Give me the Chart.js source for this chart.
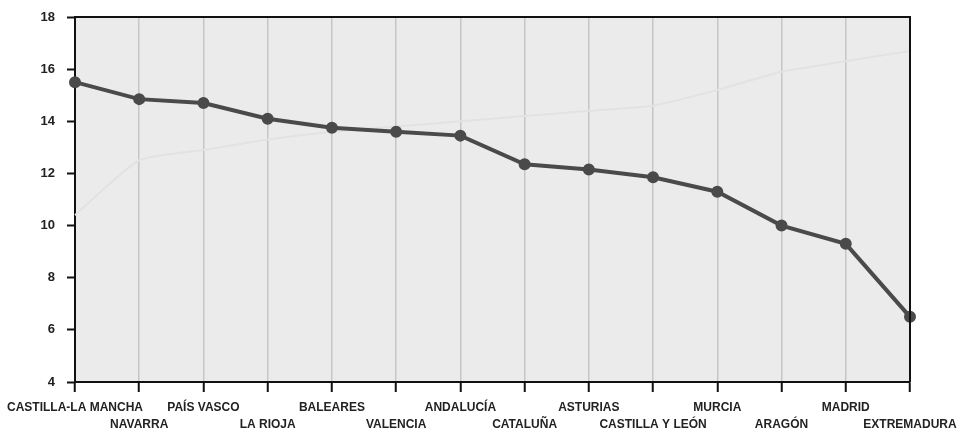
<!DOCTYPE html>
<html>
<head>
  <meta charset="utf-8">
  <title>Regiones</title>
  <script src="https://cdn.jsdelivr.net/npm/chart.js@4/dist/chart.umd.min.js"></script>
  <style>
    html, body { margin: 0; padding: 0; background: #fff; }
    #wrap { width: 961px; height: 435px; }
  </style>
</head>
<body>
  <div id="wrap"><canvas id="myChart" width="961" height="435"></canvas></div>

  <script>
    // regiones (eje x)
    var regiones = ['CASTILLA-LA MANCHA', 'NAVARRA', 'PAÍS VASCO', 'LA RIOJA', 'BALEARES',
      'VALENCIA', 'ANDALUCÍA', 'CATALUÑA', 'ASTURIAS', 'CASTILLA Y LEÓN', 'MURCIA',
      'ARAGÓN', 'MADRID', 'EXTREMADURA'];
    // serie principal
    var valores = [15.5, 14.85, 14.7, 14.1, 13.75, 13.6, 13.45, 12.35, 12.15, 11.85, 11.3,
      10.0, 9.3, 6.5];
    // linea tenue que se transparenta del papel
    var fondo = [10.4, 12.5, 12.9, 13.3, 13.6, 13.8, 14.0, 14.2, 14.4, 14.6, 15.2, 15.9, 16.3, 16.7];
    var yTicks = [4, 6, 8, 10, 12, 14, 16, 18];

    // etiquetas alternadas en dos filas
    var etiquetas = regiones.map(function(r, i) { return i % 2 ? ['', r] : [r]; });

    var plotBg = {
      id: 'plotBg',
      beforeDraw: function(chart) {
        var a = chart.chartArea, c = chart.ctx;
        c.save();
        c.fillStyle = '#ebebeb';
        c.fillRect(a.left, a.top, a.right - a.left, a.bottom - a.top);
        c.restore();
      },
      afterDatasetsDraw: function(chart) {
        var a = chart.chartArea, c = chart.ctx;
        c.save();
        c.strokeStyle = '#111';
        c.lineWidth = 2;
        c.beginPath();
        c.moveTo(a.left, a.top);
        c.lineTo(a.right, a.top);
        c.lineTo(a.right, a.bottom);
        c.stroke();
        c.restore();
      }
    };

    var ctx = document.getElementById('myChart').getContext('2d');
    var chart = new Chart(ctx, {
      type: 'line',
      data: {
        labels: etiquetas,
        datasets: [{
          data: valores,
          borderColor: '#4a4a4a',
          backgroundColor: '#4a4a4a',
          borderWidth: 4,
          pointRadius: 4,
          tension: 0,
          order: 1
        }, {
          data: fondo,
          borderColor: '#e2e2e2',
          borderWidth: 2,
          pointRadius: 0,
          tension: 0.2,
          order: 2
        }]
      },
      options: {
        responsive: false,
        animation: false,
        layout: { padding: { left: 16, right: 3, top: 17, bottom: 0 } },
        plugins: { legend: { display: false }, tooltip: { enabled: false } },
        scales: {
          x: {
            offset: false,
            afterFit: function(s) { s.height = 53; s.paddingRight = 51; },
            border: { color: '#111', width: 2 },
            grid: { color: '#c6c6c6', lineWidth: 1.5, tickLength: 10, tickColor: '#111', tickWidth: 2 },
            ticks: {
              autoSkip: false, maxRotation: 0, minRotation: 0, padding: 7,
              color: '#222',
              font: { family: 'Liberation Sans', size: 12, weight: 'bold', lineHeight: 1.42 }
            }
          },
          y: {
            min: 4, max: 18,
            afterBuildTicks: function(s) { s.ticks = yTicks.map(function(v) { return { value: v }; }); },
            afterFit: function(s) { s.paddingTop = 5; },
            border: { color: '#111', width: 2 },
            grid: { drawOnChartArea: false, tickLength: 8, tickColor: '#111', tickWidth: 2 },
            ticks: {
              padding: 12, color: '#222',
              font: { family: 'Liberation Sans', size: 13, weight: 'bold' }
            }
          }
        }
      },
      plugins: [plotBg]
    });
  </script>
</body>
</html>
